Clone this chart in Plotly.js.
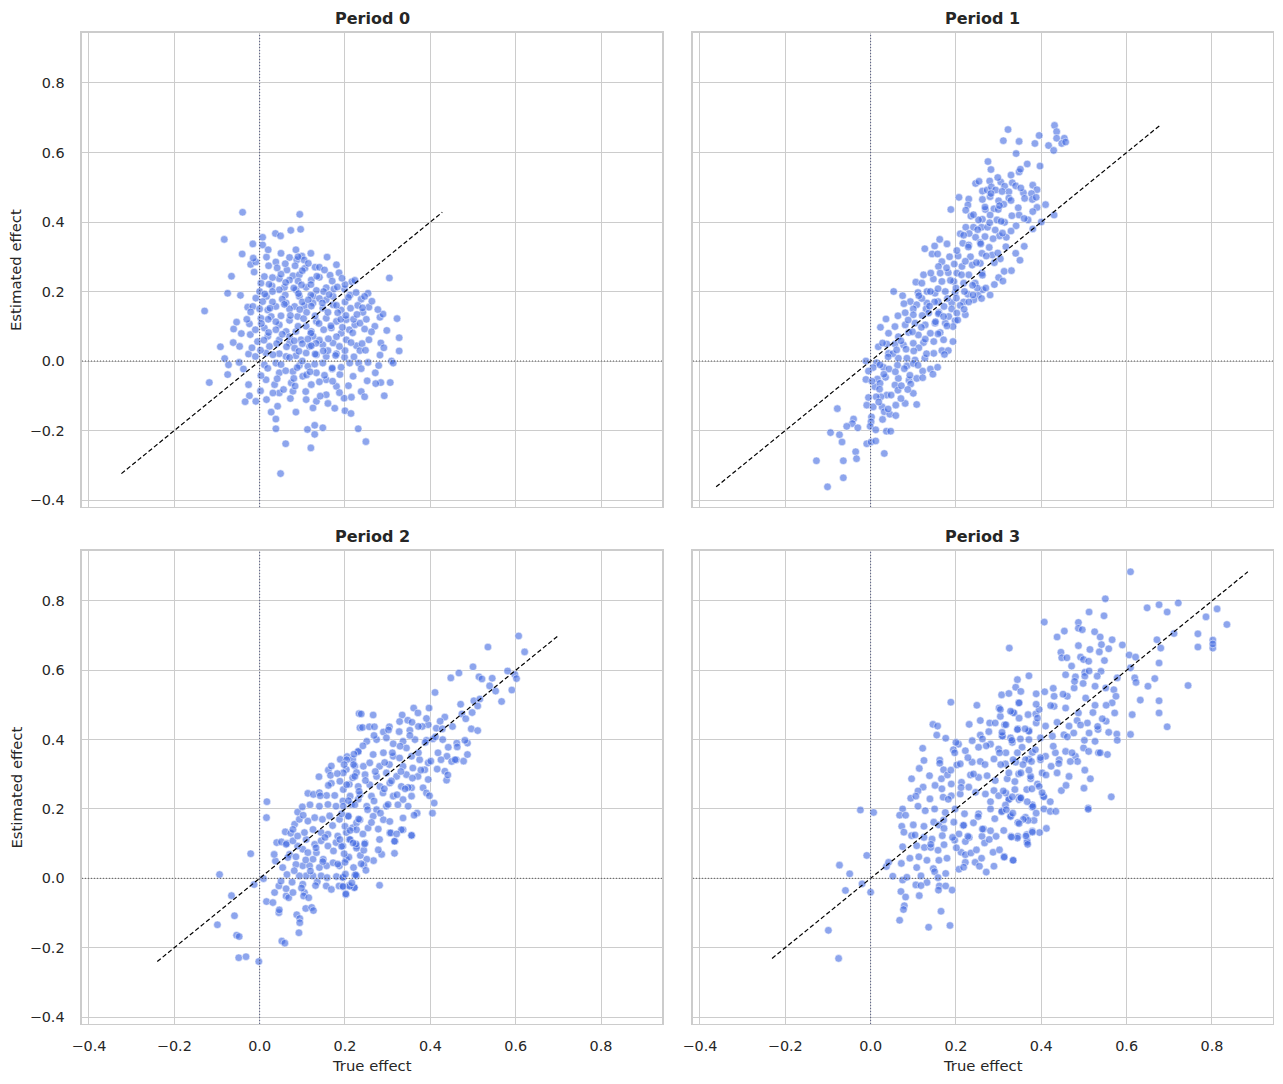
<!DOCTYPE html>
<html>
<head>
<meta charset="utf-8">
<script src="https://cdn.plot.ly/plotly-3.0.1.min.js"></script>
<style>
  body { margin: 0; background: #ffffff; }
  #chart { width: 1283px; height: 1084px; }
</style>
</head>
<body>
<div id="chart"></div>
<script>
// points: [true effect, estimated effect]
var period0 = [
  [-0.040,0.428],[0.094,0.422],[-0.083,0.350],[0.037,0.367],[0.049,0.360],[0.073,0.376],[0.096,0.379],[0.007,0.356],
  [-0.016,0.337],[0.007,0.334],[-0.041,0.308],[0.085,0.320],[0.158,0.299],
  [0.070,0.298],[0.087,0.291],[0.099,0.302],[0.104,0.291],[0.016,0.299],[0.038,0.285],[-0.021,0.278],[-0.009,0.285],[0.021,0.274],[0.180,0.277],[-0.015,0.296],
  [0.106,0.267],[0.064,0.262],[0.186,0.254],[-0.066,0.244],[-0.013,0.256],[0.304,0.239],[0.011,0.243],[0.046,0.237],[0.078,0.245],[0.093,0.248],[0.140,0.241],[0.165,0.247],[0.216,0.228],[0.070,0.233],[0.121,0.233],
  [-0.075,0.195],[-0.045,0.189],[0.003,0.224],[0.029,0.216],[0.058,0.212],[0.109,0.212],[0.133,0.203],[0.156,0.211],[0.174,0.207],[0.199,0.207],[0.223,0.232],[0.212,0.190],[0.238,0.178],[0.254,0.195],[0.246,0.186],[0.085,0.205],[0.046,0.205],[0.016,0.186],[0.125,0.186],[0.172,0.186],[0.093,0.186],[-0.009,0.181],
  [-0.129,0.144],[-0.028,0.155],[-0.016,0.157],[0.007,0.171],[0.038,0.157],[0.062,0.167],[0.082,0.157],[0.105,0.159],[0.125,0.167],[0.148,0.152],[0.172,0.162],[0.191,0.147],[0.213,0.152],[0.256,0.155],[0.242,0.140],[0.282,0.126],[0.289,0.135],[0.322,0.122],[0.019,0.147],[0.156,0.176],
  [-0.054,0.112],[-0.061,0.092],[-0.024,0.107],[0.003,0.123],[0.027,0.128],[0.046,0.104],[0.070,0.117],[0.089,0.128],[0.109,0.100],[0.133,0.114],[0.156,0.123],[0.180,0.114],[0.203,0.119],[0.223,0.104],[0.246,0.092],[0.235,0.109],[0.038,0.090],[0.011,0.095],[0.062,0.085],[0.121,0.085],[0.168,0.095],[0.191,0.080],[0.085,0.085],
  [-0.092,0.041],[-0.047,0.042],[0.327,0.067],[0.284,0.052],[0.256,0.061],[0.227,0.044],[-0.022,0.076],[-0.005,0.056],[0.019,0.071],[0.046,0.061],[0.070,0.052],[0.097,0.061],[0.125,0.071],[0.148,0.047],[0.172,0.052],[0.203,0.061],[0.023,0.042],[0.117,0.042],[0.082,0.037],
  [0.327,0.029],[0.282,0.017],[0.235,0.030],[-0.082,0.007],[-0.026,0.020],[-0.010,0.013],[0.015,0.023],[0.046,0.021],[0.062,0.013],[0.085,0.015],[0.109,0.023],[0.133,0.018],[0.156,0.013],[0.180,0.021],[0.199,0.011],[0.309,0.000],[0.313,-0.006],[-0.073,-0.011],[-0.048,-0.004],[0.254,-0.004],
  [-0.118,-0.062],[-0.075,-0.039],[-0.038,-0.023],[0.011,-0.011],[0.038,-0.006],[0.093,-0.013],[0.113,-0.015],[0.129,-0.009],[0.148,-0.006],[0.170,-0.023],[0.188,-0.039],[0.211,-0.006],[0.232,-0.006],[0.219,-0.044],[0.271,-0.034],[0.284,-0.062],[0.306,-0.062],[0.272,-0.065],[0.015,-0.054],[0.046,-0.034],[0.078,-0.030],[0.101,-0.044],[0.133,-0.034],[0.156,-0.054],[-0.026,-0.068],[0.035,-0.068],[0.074,-0.063],
  [0.002,-0.086],[0.016,-0.111],[-0.009,-0.116],[-0.024,-0.100],[-0.034,-0.117],[0.046,-0.092],[0.056,-0.082],[0.078,-0.087],[0.109,-0.111],[0.133,-0.116],[0.156,-0.097],[0.180,-0.073],[0.198,-0.107],[0.238,-0.088],[0.215,-0.104],[0.246,-0.103],[0.292,-0.100],[0.027,-0.147],[0.042,-0.130],[0.085,-0.147],[0.125,-0.135],[0.176,-0.136],[0.200,-0.143],[0.214,-0.151],[0.160,-0.122],
  [0.038,-0.167],[0.038,-0.195],[0.112,-0.197],[0.129,-0.185],[0.129,-0.211],[0.148,-0.192],[0.231,-0.195],[0.249,-0.232],[0.061,-0.238],[0.120,-0.250],[0.049,-0.324],
  [0.05,0.25],[0.09,0.23],[0.12,0.22],[0.14,0.18],[0.10,0.17],[0.07,0.15],[0.11,0.14],[0.13,0.13],[0.16,0.14],[0.18,0.16],[0.20,0.17],[0.06,0.19],[0.03,0.20],[0.08,0.21],[0.12,0.19],[0.15,0.20],[0.17,0.23],[0.10,0.26],[0.13,0.27],[0.06,0.28],
  [0.03,0.24],[0.00,0.20],[0.02,0.12],[0.05,0.13],[0.09,0.10],[0.12,0.08],[0.15,0.09],[0.18,0.07],[0.21,0.09],[0.22,0.12],[0.19,0.12],[0.14,0.06],[0.10,0.05],[0.07,0.07],[0.04,0.05],[0.01,0.06],[-0.01,0.09],[-0.03,0.12],[0.00,0.15],[0.03,0.17],
  [0.16,0.03],[0.13,0.02],[0.10,0.00],[0.07,0.01],[0.05,-0.01],[0.11,-0.04],[0.08,-0.05],[0.14,-0.06],[0.17,-0.02],[0.20,0.03],[0.24,0.05],[0.25,0.12],[0.23,0.16],[0.27,0.10],[0.20,0.22],[0.09,0.30],[0.12,0.31],[0.05,0.31],[0.02,0.32],[0.14,0.27],
  [0.041,0.268],[0.083,0.274],[0.114,0.281],[0.152,0.262],[0.193,0.238],[0.022,0.221],[0.061,0.226],[0.098,0.219],[0.134,0.244],[0.182,0.213],[0.226,0.197],[0.263,0.172],[0.012,0.193],[0.053,0.178],[0.091,0.194],[0.114,0.176],[0.163,0.191],[0.208,0.183],[0.241,0.153],[0.277,0.148],
  [-0.021,0.141],[0.024,0.152],[0.058,0.163],[0.094,0.148],[0.121,0.158],[0.147,0.167],[0.183,0.139],[0.202,0.131],[0.228,0.134],[-0.043,0.079],[0.004,0.108],[0.038,0.113],[0.072,0.131],[0.103,0.122],[0.139,0.108],[0.167,0.101],[0.194,0.097],[0.218,0.081],[0.262,0.084],[0.298,0.088],
  [-0.062,0.053],[-0.018,0.038],[0.021,0.082],[0.053,0.077],[0.081,0.058],[0.113,0.063],[0.132,0.051],[0.161,0.064],[0.187,0.042],[0.214,0.053],[0.248,0.031],[0.291,0.038],[0.002,0.031],[0.031,0.018],[0.063,0.041],[0.092,0.028],[0.121,0.044],[0.149,0.029],[0.178,0.016],[0.221,0.012],
  [0.019,-0.021],[0.061,-0.028],[0.088,-0.019],[0.118,-0.031],[0.152,-0.041],[0.191,-0.018],[0.238,-0.022],[0.279,-0.013],[0.003,-0.042],[0.041,-0.051],[0.083,-0.072],[0.121,-0.068],[0.171,-0.058],[0.208,-0.071],[0.252,-0.057],[0.031,-0.092],[0.072,-0.108],[0.108,-0.088],[0.142,-0.101],[0.187,-0.091]
];

var period1 = [
  [0.431,0.678],[0.436,0.660],[0.395,0.649],[0.322,0.666],[0.311,0.634],[0.348,0.632],[0.385,0.626],[0.436,0.641],[0.454,0.641],[0.448,0.626],[0.457,0.630],[0.417,0.620],[0.429,0.606],[0.341,0.597],
  [0.275,0.574],[0.282,0.551],[0.367,0.567],[0.397,0.561],[0.348,0.544],[0.329,0.535],
  [0.246,0.511],[0.254,0.517],[0.279,0.518],[0.305,0.515],[0.314,0.503],[0.332,0.513],[0.340,0.504],[0.380,0.506],[0.390,0.493],[0.377,0.482],[0.358,0.484],[0.262,0.489],[0.273,0.492],[0.283,0.501],[0.293,0.492],[0.324,0.487],
  [0.207,0.471],[0.230,0.466],[0.262,0.465],[0.280,0.473],[0.300,0.461],[0.324,0.469],[0.379,0.465],[0.388,0.471],[0.228,0.449],[0.223,0.434],[0.188,0.436],[0.269,0.436],[0.289,0.438],[0.299,0.436],[0.312,0.451],[0.346,0.441],[0.390,0.442],
  [0.235,0.417],[0.262,0.408],[0.280,0.420],[0.296,0.406],[0.314,0.399],[0.348,0.420],[0.369,0.406],[0.253,0.406],[0.223,0.385],[0.241,0.385],[0.260,0.385],[0.274,0.385],[0.341,0.389],
  [0.210,0.366],[0.231,0.367],[0.246,0.356],[0.268,0.358],[0.292,0.377],[0.302,0.360],[0.318,0.356],[0.329,0.374],[0.162,0.350],[0.150,0.331],[0.127,0.323],[0.179,0.337],[0.216,0.339],[0.230,0.334],[0.257,0.341],[0.278,0.327],[0.317,0.329],
  [0.144,0.308],[0.157,0.308],[0.185,0.300],[0.205,0.302],[0.234,0.300],[0.261,0.310],[0.285,0.305],[0.304,0.294],[0.167,0.286],[0.159,0.272],[0.196,0.279],[0.214,0.272],[0.238,0.276],[0.257,0.281],[0.290,0.283],[0.313,0.258],
  [0.124,0.248],[0.163,0.253],[0.182,0.254],[0.202,0.253],[0.230,0.248],[0.261,0.253],[0.106,0.227],[0.120,0.224],[0.147,0.236],[0.167,0.229],[0.195,0.229],[0.218,0.224],[0.245,0.224],
  [0.054,0.200],[0.075,0.188],[0.111,0.197],[0.132,0.200],[0.151,0.195],[0.175,0.200],[0.198,0.197],[0.228,0.192],[0.252,0.190],[0.263,0.205],[0.093,0.171],[0.078,0.165],[0.108,0.162],[0.132,0.167],[0.158,0.171],[0.190,0.168],[0.218,0.170],[0.242,0.176],
  [0.12,0.18],[0.15,0.17],[0.18,0.18],[0.21,0.16],[0.24,0.19],[0.19,0.15],[0.16,0.14],[0.13,0.15],[0.10,0.15],[0.22,0.20],[0.26,0.18],[0.27,0.21],[0.29,0.22],[0.14,0.20],[0.20,0.21],[0.23,0.17],[0.25,0.21],[0.30,0.24],[0.28,0.19],[0.31,0.23],
  [0.33,0.26],[0.35,0.29],[0.34,0.31],[0.36,0.33],[0.38,0.38],[0.40,0.40],[0.43,0.42],[0.41,0.45],[0.38,0.43],[0.36,0.41],
  [0.036,0.121],[0.064,0.130],[0.081,0.139],[0.100,0.133],[0.136,0.138],[0.159,0.136],[0.183,0.128],[0.202,0.138],[0.222,0.133],[0.198,0.116],[0.193,0.099],[0.175,0.109],[0.151,0.109],[0.128,0.104],[0.104,0.109],[0.081,0.104],[0.057,0.099],[0.023,0.097],
  [0.042,0.080],[0.065,0.070],[0.089,0.082],[0.112,0.075],[0.140,0.080],[0.163,0.082],[0.193,0.056],[0.171,0.061],[0.148,0.056],[0.124,0.053],[0.100,0.051],[0.077,0.046],[0.057,0.049],[0.038,0.049],[0.018,0.041],
  [0.148,0.022],[0.167,0.030],[0.182,0.030],[0.173,0.019],[0.127,0.008],[0.104,0.003],[0.085,0.008],[0.065,0.008],[0.042,0.022],[-0.011,0.000],[0.014,-0.005],[0.006,-0.019],[0.030,-0.018],[0.063,-0.012],[0.085,-0.014],[0.100,-0.007],
  [0.122,-0.029],[0.140,-0.023],[0.157,-0.018],[0.146,-0.038],[0.043,-0.023],[-0.005,-0.029],[-0.011,-0.053],[0.016,-0.052],[0.035,-0.047],[0.057,-0.069],[0.065,-0.050],[0.090,-0.055],[0.094,-0.066],[0.108,-0.050],[0.122,-0.048],
  [0.100,-0.093],[0.087,-0.082],[0.064,-0.084],[0.010,-0.074],[0.022,-0.064],[0.038,-0.098],[0.024,-0.103],[0.013,-0.103],[-0.005,-0.105],[0.059,-0.127],[0.081,-0.122],[0.108,-0.125],[-0.009,-0.127],[0.006,-0.132],[0.027,-0.132],
  [0.032,-0.146],[0.045,-0.153],[0.059,-0.157],[0.002,-0.161],[-0.078,-0.137],[-0.040,-0.167],[-0.043,-0.180],[-0.056,-0.188],[-0.030,-0.192],[0.001,-0.175],[-0.001,-0.188],[-0.094,-0.206],[-0.073,-0.212],[-0.067,-0.233],
  [0.037,-0.202],[0.047,-0.202],[-0.009,-0.238],[0.001,-0.233],[0.012,-0.230],[-0.035,-0.261],[-0.033,-0.281],[0.032,-0.266],[-0.127,-0.287],[-0.064,-0.287],[-0.064,-0.336],[-0.101,-0.362],
  [0.052,0.021],[0.083,0.034],[0.113,0.038],[0.128,0.063],[0.158,0.078],[0.179,0.101],[0.071,0.058],[0.098,0.084],[0.119,0.097],[0.152,0.113],[0.171,0.128],[0.204,0.118],[0.088,0.118],[0.121,0.131],[0.138,0.158],[0.172,0.157],[0.201,0.181],[0.219,0.149],[0.113,0.188],[0.158,0.208],
  [0.187,0.232],[0.213,0.248],[0.239,0.218],[0.262,0.247],[0.141,0.253],[0.178,0.268],[0.222,0.287],[0.248,0.283],[0.271,0.302],[0.298,0.311],[0.202,0.318],[0.229,0.328],[0.258,0.337],[0.287,0.352],[0.309,0.368],[0.218,0.362],[0.251,0.378],[0.279,0.398],[0.306,0.402],[0.331,0.418],
  [0.241,0.421],[0.268,0.443],[0.302,0.447],[0.329,0.462],[0.361,0.468],[0.282,0.482],[0.308,0.488],[0.352,0.498],[0.298,0.528],[0.351,0.552],[0.022,-0.011],[0.041,0.012],[0.031,-0.038],[0.058,-0.031],[0.079,-0.022],[0.072,-0.071],[0.048,-0.098],[0.021,-0.081],[0.003,-0.058],[0.111,-0.012],
  [0.131,0.021],[0.101,0.029],[0.061,0.032],[0.028,0.052],[0.092,-0.041],[0.041,-0.138],[0.019,-0.118],[0.071,-0.108],[0.012,-0.198],[0.028,-0.168]
];

var period2 = [
  [0.017,0.221],[0.016,0.175],[-0.021,0.071],[-0.094,0.011],[-0.013,-0.018],[0.009,-0.001],[-0.066,-0.050],[-0.059,-0.108],[-0.099,-0.134],[-0.054,-0.164],[-0.048,-0.168],[-0.049,-0.229],[-0.032,-0.226],[-0.002,-0.240],
  [0.016,-0.067],[0.031,-0.070],[0.045,-0.099],[0.046,-0.091],[0.052,-0.181],[0.059,-0.187],[0.087,-0.105],[0.094,-0.116],[0.094,-0.128],[0.092,-0.157],[0.108,-0.087],[0.122,-0.084],[0.126,-0.093],
  [0.035,-0.041],[0.045,-0.022],[0.050,-0.008],[0.062,-0.051],[0.068,-0.056],[0.078,-0.041],[0.062,-0.030],[0.076,-0.011],[0.101,-0.017],[0.105,-0.041],[0.103,-0.051],[0.115,-0.056],[0.135,-0.010],[0.156,-0.022],[0.180,0.005],[0.186,-0.022],[0.196,-0.025],[0.202,-0.047],[0.210,-0.020],[0.222,-0.026],[0.195,0.002],[0.223,0.009],
  [0.037,0.050],[0.054,0.031],[0.064,0.011],[0.034,0.069],[0.040,0.103],[0.051,0.105],[0.064,0.101],[0.060,0.134],[0.073,0.130],[0.082,0.156],[0.089,0.191],[0.100,0.206],[0.113,0.245],[0.126,0.242],[0.140,0.247],[0.139,0.293],[0.161,0.312],[0.168,0.324],[0.189,0.343],[0.205,0.351],
  [0.166,0.297],[0.168,0.274],[0.188,0.280],[0.157,0.239],[0.176,0.239],[0.196,0.256],[0.210,0.271],[0.218,0.290],[0.231,0.365],[0.233,0.475],[0.235,0.434],
  [0.070,0.069],[0.085,0.062],[0.101,0.084],[0.113,0.074],[0.125,0.055],[0.133,0.074],[0.149,0.055],[0.157,0.036],[0.172,0.045],[0.187,0.036],[0.203,0.055],[0.220,0.031],[0.227,0.007],[0.125,0.007],[0.109,0.007],[0.093,0.007],[0.144,0.007],
  [0.101,0.036],[0.085,0.040],[0.117,0.036],[0.140,0.031],[0.066,0.060],[0.089,0.093],[0.109,0.112],[0.129,0.098],[0.144,0.108],[0.160,0.093],[0.179,0.103],[0.195,0.093],[0.210,0.112],[0.227,0.093],[0.078,0.108],[0.089,0.122],[0.105,0.132],[0.125,0.141],[0.144,0.132],
  [0.160,0.127],[0.183,0.122],[0.203,0.132],[0.218,0.146],[0.113,0.165],[0.129,0.175],[0.147,0.170],[0.164,0.180],[0.187,0.170],[0.207,0.180],[0.227,0.160],[0.093,0.170],[0.140,0.208],[0.160,0.213],[0.179,0.208],[0.195,0.223],[0.215,0.213],[0.231,0.228],[0.203,0.314],[0.223,0.324],[0.227,0.305],[0.218,0.343],
  [0.607,0.699],[0.535,0.667],[0.621,0.653],[0.500,0.610],[0.467,0.592],[0.448,0.578],[0.514,0.581],[0.521,0.575],[0.545,0.577],[0.581,0.598],[0.598,0.588],[0.602,0.576],[0.539,0.555],[0.553,0.540],[0.591,0.543],[0.567,0.510],[0.411,0.536],[0.502,0.512],[0.516,0.517],[0.511,0.497],
  [0.361,0.491],[0.397,0.491],[0.371,0.477],[0.334,0.471],[0.347,0.456],[0.357,0.450],[0.395,0.443],[0.434,0.465],[0.423,0.453],[0.474,0.474],[0.483,0.460],[0.496,0.431],[0.511,0.426],[0.414,0.433],[0.238,0.474],[0.266,0.471],[0.241,0.435],[0.257,0.437],[0.269,0.437],[0.290,0.422],
  [0.304,0.437],[0.327,0.423],[0.352,0.427],[0.381,0.438],[0.364,0.400],[0.391,0.398],[0.406,0.402],[0.429,0.400],[0.462,0.390],[0.463,0.379],[0.487,0.390],[0.439,0.352],[0.450,0.337],[0.461,0.342],[0.478,0.338],[0.487,0.357],[0.425,0.342],[0.434,0.309],[0.438,0.283],[0.416,0.315],[0.409,0.217],[0.405,0.188],
  [0.251,0.395],[0.274,0.400],[0.297,0.405],[0.313,0.388],[0.336,0.395],[0.344,0.376],[0.231,0.366],[0.266,0.357],[0.290,0.362],[0.313,0.352],[0.328,0.347],[0.356,0.352],[0.375,0.342],[0.395,0.333],[0.204,0.342],[0.220,0.328],[0.243,0.323],[0.258,0.333],[0.281,0.323],[0.304,0.328],
  [0.336,0.323],[0.359,0.318],[0.387,0.313],[0.196,0.304],[0.223,0.294],[0.247,0.299],[0.274,0.294],[0.297,0.304],[0.321,0.294],[0.344,0.299],[0.371,0.294],[0.395,0.285],[0.204,0.270],[0.231,0.265],[0.258,0.270],[0.282,0.265],[0.305,0.275],[0.332,0.265],[0.356,0.261],[0.383,0.261],
  [0.212,0.237],[0.235,0.241],[0.262,0.237],[0.289,0.246],[0.313,0.237],[0.336,0.227],[0.356,0.237],[0.391,0.246],[0.196,0.208],[0.223,0.212],[0.251,0.208],[0.274,0.198],[0.297,0.208],[0.324,0.212],[0.348,0.208],[0.369,0.188],[0.208,0.179],[0.235,0.169],[0.266,0.179],[0.290,0.169],
  [0.305,0.164],[0.336,0.174],[0.200,0.150],[0.227,0.140],[0.254,0.145],[0.278,0.142],[0.305,0.131],[0.336,0.140],[0.356,0.123],[0.212,0.112],[0.247,0.102],[0.281,0.112],[0.317,0.107],[0.192,0.092],[0.227,0.087],
  [0.307,0.131],[0.332,0.140],[0.356,0.124],[0.316,0.107],[0.316,0.072],[0.286,0.069],[0.267,0.051],[0.251,0.055],[0.244,0.038],[0.249,0.023],[0.236,0.066],[0.244,0.081],[0.225,0.010],[0.281,-0.020],[0.222,-0.027],[0.211,-0.023],[0.216,-0.013],[0.202,-0.045],[0.195,0.003],[0.195,-0.023],
  [0.209,0.061],[0.200,0.046],[0.226,0.099],[0.246,0.099],
  [0.081,0.022],[0.108,0.053],[0.132,0.088],[0.153,0.118],[0.171,0.152],[0.192,0.186],[0.208,0.224],[0.233,0.251],[0.248,0.282],[0.271,0.308],[0.293,0.334],[0.311,0.362],[0.329,0.381],[0.352,0.412],[0.372,0.438],[0.391,0.461],[0.119,0.021],[0.148,0.048],[0.173,0.079],[0.188,0.112],
  [0.212,0.138],[0.232,0.171],[0.253,0.198],[0.268,0.223],[0.292,0.258],[0.309,0.281],[0.331,0.308],[0.348,0.262],[0.372,0.362],[0.388,0.392],[0.412,0.408],[0.428,0.431],[0.158,0.002],[0.183,0.041],[0.198,0.071],[0.219,0.102],[0.242,0.128],[0.262,0.161],[0.283,0.188],[0.301,0.213],
  [0.322,0.241],[0.341,0.258],[0.358,0.289],[0.378,0.312],[0.401,0.338],[0.418,0.362],[0.442,0.378],[0.062,0.098],[0.078,0.141],[0.102,0.182],[0.118,0.212],[0.142,0.238],[0.161,0.268],[0.182,0.302],[0.198,0.328],[0.221,0.358],[0.242,0.382],[0.268,0.412],[0.302,0.428],[0.328,0.452],
  [0.098,-0.028],[0.131,-0.021],[0.168,-0.032],[0.201,0.012],[0.238,0.042],[0.278,0.082],[0.321,0.128],[0.362,0.182],[0.398,0.238],[0.441,0.298],[0.458,0.342],[0.481,0.398],[0.452,0.438],[0.498,0.478],[0.471,0.502]
];

var period3 = [
  [0.188,0.508],[0.249,0.499],[0.301,0.491],[0.347,0.506],[0.387,0.474],[0.146,0.444],[0.157,0.439],[0.155,0.413],[0.176,0.404],[0.231,0.444],[0.257,0.455],[0.279,0.448],[0.304,0.467],[0.314,0.443],[0.333,0.479],[0.345,0.431],[0.371,0.426],[0.257,0.413],[0.277,0.423],[0.308,0.411],
  [0.238,0.397],[0.206,0.387],[0.200,0.392],[0.122,0.375],[0.194,0.371],[0.197,0.362],[0.222,0.368],[0.253,0.378],[0.281,0.387],[0.300,0.373],[0.332,0.392],[0.355,0.378],[0.379,0.363],[0.125,0.340],[0.162,0.341],[0.162,0.332],[0.202,0.327],[0.210,0.330],[0.238,0.335],[0.257,0.337],
  [0.289,0.344],[0.316,0.330],[0.340,0.335],[0.371,0.344],[0.114,0.317],[0.096,0.287],[0.138,0.296],[0.166,0.287],[0.171,0.313],[0.180,0.298],[0.189,0.272],[0.213,0.277],[0.234,0.298],[0.253,0.291],[0.273,0.296],[0.292,0.282],[0.320,0.287],[0.347,0.301],[0.375,0.287],[0.391,0.272],
  [0.123,0.263],[0.111,0.252],[0.094,0.231],[0.106,0.237],[0.139,0.229],[0.167,0.258],[0.170,0.234],[0.189,0.238],[0.210,0.243],[0.230,0.263],[0.246,0.248],[0.269,0.243],[0.289,0.253],[0.300,0.238],[0.324,0.229],[0.347,0.234],[0.379,0.205],
  [0.075,0.200],[0.111,0.208],[0.128,0.195],[0.150,0.200],[0.175,0.190],[0.198,0.200],[0.220,0.186],[0.253,0.186],[0.281,0.200],[0.308,0.195],[0.328,0.181],[0.363,0.176],[-0.024,0.197],[0.007,0.190],[0.068,0.182],[0.082,0.182],
  [0.073,0.150],[0.100,0.154],[0.125,0.150],[0.148,0.162],[0.160,0.154],[0.172,0.144],[0.195,0.162],[0.217,0.152],[0.241,0.160],[0.265,0.142],[0.281,0.137],[0.078,0.133],[0.096,0.123],[0.104,0.125],[0.125,0.118],[0.144,0.113],[0.168,0.123],[0.207,0.128],[0.231,0.118],[0.261,0.121],
  [0.294,0.121],[0.329,0.121],[0.345,0.121],[0.366,0.126],[0.367,0.108],[0.379,0.136],[0.075,0.091],[0.108,0.094],[0.126,0.089],[0.141,0.089],[0.172,0.097],[0.197,0.110],[0.222,0.106],[0.267,0.102],
  [-0.009,0.066],[-0.073,0.038],[-0.049,0.013],[0.037,0.034],[0.042,0.046],[0.072,0.043],[0.113,0.062],[0.160,0.052],[0.179,0.058],[0.212,0.075],[0.222,0.068],[0.235,0.073],[0.222,0.046],[0.245,0.046],[0.255,0.035],[0.260,0.058],[0.287,0.075],[0.289,0.035],[0.313,0.063],[0.334,0.052],
  [0.207,0.026],[0.147,0.028],[0.150,0.019],[0.176,0.014],[0.052,0.006],[0.075,-0.005],[0.085,0.003],[0.106,-0.019],[0.118,0.007],[0.132,-0.012],[0.161,-0.022],[0.176,-0.022],[0.191,-0.034],[0.159,-0.034],[-0.020,-0.016],[-0.059,-0.035],[0.000,-0.040],[0.071,-0.038],[0.082,-0.054],[0.114,-0.050],
  [0.079,-0.079],[0.077,-0.090],[0.165,-0.095],[0.068,-0.121],[0.136,-0.141],[0.186,-0.136],[-0.099,-0.150],[-0.075,-0.231],
  [0.609,0.884],[0.550,0.806],[0.648,0.780],[0.676,0.789],[0.721,0.794],[0.695,0.768],[0.812,0.777],[0.786,0.754],[0.835,0.732],[0.512,0.768],[0.547,0.757],[0.407,0.739],[0.487,0.738],[0.487,0.721],[0.454,0.713],[0.437,0.696],[0.496,0.717],[0.525,0.711],[0.538,0.696],[0.566,0.688],
  [0.541,0.674],[0.558,0.662],[0.590,0.673],[0.536,0.653],[0.514,0.660],[0.487,0.671],[0.446,0.652],[0.448,0.636],[0.460,0.636],[0.492,0.638],[0.499,0.631],[0.511,0.626],[0.548,0.628],[0.671,0.688],[0.680,0.664],[0.711,0.706],[0.767,0.705],[0.767,0.667],[0.802,0.687],[0.802,0.664],
  [0.802,0.676],[0.606,0.644],[0.621,0.638],[0.676,0.621],[0.609,0.607],[0.325,0.664],[0.502,0.594],[0.540,0.597],[0.531,0.583],[0.457,0.587],[0.480,0.581],[0.502,0.583],[0.578,0.578],[0.619,0.578],[0.622,0.565],[0.666,0.576],[0.650,0.554],[0.744,0.556],[0.632,0.514],[0.676,0.512],
  [0.613,0.472],[0.676,0.477],[0.695,0.437],[0.609,0.415],[0.371,0.584],[0.344,0.573],[0.340,0.551],[0.352,0.539],[0.307,0.529],[0.324,0.533],[0.348,0.506],[0.388,0.532],[0.408,0.538],[0.430,0.525],[0.461,0.525],[0.477,0.549],[0.498,0.562],[0.526,0.554],[0.551,0.549],[0.570,0.544],
  [0.575,0.525],[0.566,0.506],[0.552,0.499],[0.526,0.499],[0.504,0.520],[0.487,0.477],[0.457,0.491],[0.430,0.496],[0.395,0.487],[0.369,0.472],[0.336,0.477],[0.304,0.487],[0.317,0.443],[0.344,0.429],[0.371,0.424],[0.388,0.448],[0.410,0.439],[0.437,0.450],[0.465,0.439],[0.484,0.455],
  [0.508,0.448],[0.533,0.429],[0.552,0.453],[0.572,0.477],[0.543,0.460],[0.577,0.416],[0.558,0.421],[0.512,0.419],[0.476,0.419],[0.453,0.414],[0.426,0.410],[0.398,0.405],[0.371,0.400],[0.351,0.402],[0.328,0.405],[0.309,0.410],[0.317,0.362],[0.344,0.362],[0.363,0.342],[0.386,0.371],
  [0.410,0.352],[0.433,0.362],[0.457,0.366],[0.480,0.352],[0.499,0.376],[0.526,0.395],[0.534,0.362],[0.555,0.357],[0.511,0.366],[0.485,0.337],[0.468,0.337],[0.442,0.342],[0.423,0.323],[0.398,0.342],[0.377,0.337],[0.357,0.328],[0.334,0.342],[0.305,0.328],[0.324,0.304],[0.352,0.304],
  [0.375,0.294],[0.402,0.304],[0.437,0.304],[0.465,0.294],[0.515,0.287],[0.447,0.253],[0.500,0.260],[0.564,0.235],[0.510,0.203],[0.395,0.265],[0.366,0.256],[0.338,0.256],[0.317,0.246],[0.405,0.237],[0.379,0.212],[0.348,0.227],[0.324,0.227],
  [0.510,0.199],[0.406,0.200],[0.421,0.193],[0.434,0.193],[0.412,0.144],[0.396,0.132],[0.379,0.133],[0.367,0.104],[0.364,0.122],[0.344,0.116],[0.330,0.119],[0.334,0.052],[0.313,0.061],[0.383,0.167],[0.369,0.167],[0.358,0.170],[0.345,0.161],[0.328,0.178],[0.333,0.188],[0.307,0.192],
  [0.316,0.211],[0.332,0.235],[0.351,0.231],[0.367,0.221],[0.380,0.207],[0.406,0.235],[0.402,0.247],
  [0.132,0.052],[0.158,0.081],[0.192,0.118],[0.218,0.153],[0.252,0.178],[0.281,0.221],[0.311,0.252],[0.338,0.279],[0.371,0.312],[0.398,0.348],[0.428,0.381],[0.461,0.408],[0.492,0.442],[0.521,0.478],[0.182,0.228],[0.212,0.262],[0.241,0.301],[0.268,0.328],[0.302,0.362],[0.331,0.398],
  [0.362,0.431],[0.391,0.462],[0.422,0.498],[0.451,0.531],[0.478,0.568],[0.512,0.598],[0.201,0.088],[0.228,0.121],[0.262,0.142],[0.291,0.172],[0.318,0.198],[0.352,0.232],[0.378,0.258],[0.411,0.298],[0.441,0.331],[0.472,0.362],[0.501,0.398],[0.532,0.438],[0.151,0.268],[0.188,0.312],
  [0.228,0.348],[0.271,0.382],[0.308,0.421],[0.348,0.462],[0.388,0.502],[0.428,0.548],[0.471,0.612],[0.248,0.082],[0.278,0.112],[0.312,0.138],[0.348,0.158],[0.388,0.188],[0.421,0.221],[0.458,0.268],[0.502,0.312],[0.538,0.362],[0.578,0.398],[0.262,0.402],[0.292,0.448],[0.328,0.482],
  [0.108,0.031],[0.141,0.098],[0.171,0.168],[0.092,0.058],[0.118,-0.021],[0.158,0.002],[0.218,0.032],[0.271,0.018],[0.302,0.082],[0.368,0.098]
];

var periods = [period0, period1, period2, period3];
var titles = ['Period 0', 'Period 1', 'Period 2', 'Period 3'];
var tickValues = [-0.4, -0.2, 0.0, 0.2, 0.4, 0.6, 0.8];

//setting
var pointColor = 'rgba(65,105,225,0.6)';
var gridColor = '#cccccc';
var textColor = '#262626';
var fontFamily = 'DejaVu Sans, sans-serif';
var axisRange = [-0.4164, 0.943];

// subplot boxes in paper fractions
var xdoms = [[0.0639, 0.5160], [0.5401, 0.9922], [0.0639, 0.5160], [0.5401, 0.9922]];
var ydoms = [[0.5323, 0.9696], [0.5323, 0.9696], [0.0554, 0.4917], [0.0554, 0.4917]];

var data = [];
var shapes = [];
var annotations = [];
var layout = {
  width: 1283,
  height: 1084,
  margin: {l: 0, r: 0, t: 0, b: 0},
  paper_bgcolor: '#ffffff',
  plot_bgcolor: '#ffffff',
  showlegend: false,
  font: {family: fontFamily, color: textColor, size: 14}
};

for (var i = 0; i < 4; i++) {
  var sfx = i === 0 ? '' : String(i + 1);
  var xs = periods[i].map(function (p) { return p[0]; });
  var ys = periods[i].map(function (p) { return p[1]; });

  data.push({
    type: 'scatter',
    mode: 'markers',
    x: xs,
    y: ys,
    xaxis: 'x' + sfx,
    yaxis: 'y' + sfx,
    marker: {size: 7.6, color: pointColor, line: {color: 'rgba(255,255,255,0.85)', width: 0.6}},
    hoverinfo: 'x+y'
  });

  // identity line from the smallest to the largest value of the panel
  var lo = Math.min(Math.min.apply(null, xs), Math.min.apply(null, ys));
  var hi = Math.max(Math.max.apply(null, xs), Math.max.apply(null, ys));
  data.push({
    type: 'scatter',
    mode: 'lines',
    x: [lo, hi],
    y: [lo, hi],
    xaxis: 'x' + sfx,
    yaxis: 'y' + sfx,
    line: {color: '#000000', width: 1.2, dash: '4.5px,2.5px'},
    hoverinfo: 'skip'
  });

  var bottomRow = i >= 2;
  var leftCol = i % 2 === 0;

  layout['xaxis' + sfx] = {
    domain: xdoms[i],
    anchor: 'y' + sfx,
    range: axisRange,
    tickvals: tickValues,
    tickformat: '.1f',
    showticklabels: bottomRow,
    ticks: '',
    ticklabelstandoff: 8,
    tickfont: {size: 14.4, color: textColor},
    showgrid: true,
    gridcolor: gridColor,
    gridwidth: 1,
    zeroline: false,
    showline: true,
    mirror: true,
    linecolor: gridColor,
    linewidth: 1.5
  };
  layout['yaxis' + sfx] = {
    domain: ydoms[i],
    anchor: 'x' + sfx,
    range: [-0.42, 0.944],
    tickvals: tickValues,
    tickformat: '.1f',
    showticklabels: leftCol,
    ticks: '',
    ticklabelstandoff: 13,
    tickfont: {size: 14.4, color: textColor},
    showgrid: true,
    gridcolor: gridColor,
    gridwidth: 1,
    zeroline: false,
    showline: true,
    mirror: true,
    linecolor: gridColor,
    linewidth: 1.5
  };

  // dotted reference lines at zero
  shapes.push({
    type: 'line', xref: 'x' + sfx + ' domain', yref: 'y' + sfx,
    x0: 0, x1: 1, y0: 0, y1: 0,
    line: {color: '#555555', width: 1, dash: '1px,2px'}
  });
  shapes.push({
    type: 'line', xref: 'x' + sfx, yref: 'y' + sfx + ' domain',
    x0: 0, x1: 0, y0: 0, y1: 1,
    line: {color: '#4f5680', width: 1, dash: '1px,2px'}
  });

  annotations.push({
    text: '<b>' + titles[i] + '</b>',
    xref: 'paper', yref: 'paper',
    x: (xdoms[i][0] + xdoms[i][1]) / 2,
    y: ydoms[i][1] + 0.0135,
    xanchor: 'center', yanchor: 'middle',
    showarrow: false,
    font: {size: 16, color: textColor}
  });
  if (leftCol) {
    annotations.push({
      text: 'Estimated effect',
      xref: 'paper', yref: 'paper',
      x: 0.0125,
      y: (ydoms[i][0] + ydoms[i][1]) / 2,
      xanchor: 'center', yanchor: 'middle',
      textangle: -90,
      showarrow: false,
      font: {size: 14.8, color: textColor}
    });
  }
  if (bottomRow) {
    annotations.push({
      text: 'True effect',
      xref: 'paper', yref: 'paper',
      x: (xdoms[i][0] + xdoms[i][1]) / 2,
      y: 0.0175,
      xanchor: 'center', yanchor: 'middle',
      showarrow: false,
      font: {size: 14.8, color: textColor}
    });
  }
}

layout.shapes = shapes;
layout.annotations = annotations;

Plotly.newPlot('chart', data, layout, {staticPlot: true});
</script>
</body>
</html>
